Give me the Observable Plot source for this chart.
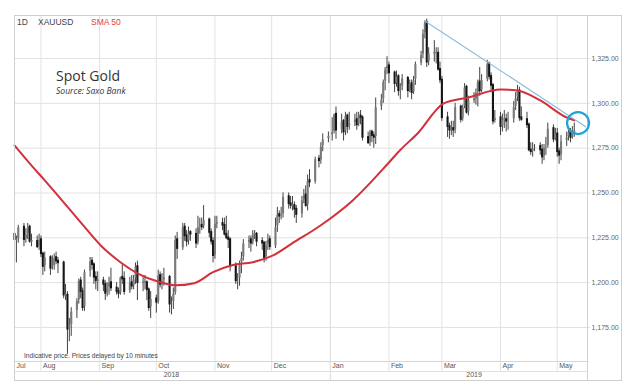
<!DOCTYPE html>
<html><head><meta charset="utf-8">
<script src="https://cdn.jsdelivr.net/npm/d3@7"></script>
<script src="https://cdn.jsdelivr.net/npm/@observablehq/plot@0.6"></script>
<style>
body{margin:0;background:#fff;}
#wrap{position:relative;width:625px;height:392px;font-family:Arial,"Liberation Sans",sans-serif;overflow:hidden;}
#wrap svg{position:absolute;left:0;top:0;}
.box{position:absolute;left:14px;top:15px;width:606px;height:364px;border:1px solid #cfcfcf;pointer-events:none;}
.hdr{position:absolute;top:17px;font-size:8.5px;color:#444;white-space:nowrap;}
.title{position:absolute;left:56px;top:66px;font-family:"Open Sans",sans-serif;font-size:14px;color:#333;white-space:nowrap;}
.src{position:absolute;left:56px;top:85px;font-family:"Open Sans",sans-serif;font-style:italic;font-size:8.6px;color:#333;white-space:nowrap;}
.disc{position:absolute;left:24px;top:352px;font-size:6.6px;color:#444;white-space:nowrap;}
</style>
</head><body>
<div id="wrap">
  <div id="chart"></div>
  <div class="box"></div>
  <div class="hdr" style="left:17px">1D</div>
  <div class="hdr" style="left:38px">XAUUSD</div>
  <div class="hdr" style="left:91px;color:#e0433f">SMA 50</div>
  <div class="title">Spot Gold</div>
  <div class="src">Source: Saxo Bank</div>
  <div class="disc">Indicative price. Prices delayed by 10 minutes</div>
</div>
<script>
// ---- trading days, grouped by month ----
const months = ["2018-07","2018-08","2018-09","2018-10","2018-11","2018-12","2019-01","2019-02","2019-03","2019-04","2019-05"];
const monthDays = [
  [18,19,20,23,24,25,26,27,30,31],
  [1,2,3,6,7,8,9,10,13,14,15,16,17,20,21,22,23,24,27,28,29,30,31],
  [3,4,5,6,7,10,11,12,13,14,17,18,19,20,21,24,25,26,27,28],
  [1,2,3,4,5,8,9,10,11,12,15,16,17,18,19,22,23,24,25,26,29,30,31],
  [1,2,5,6,7,8,9,12,13,14,15,16,19,20,21,22,23,26,27,28,29,30],
  [3,4,5,6,7,10,11,12,13,14,17,18,19,20,21,24,26,27,28,31],
  [2,3,4,7,8,9,10,11,14,15,16,17,18,21,22,23,24,25,28,29,30,31],
  [1,4,5,6,7,8,11,12,13,14,15,18,19,20,21,22,25,26,27,28],
  [1,4,5,6,7,8,11,12,13,14,15,18,19,20,21,22,25,26,27,28,29],
  [1,2,3,4,5,8,9,10,11,12,15,16,17,18,19,22,23,24,25,26,29,30],
  [1,2,3,6,7,8,9,10]
];
const open = [
  1227,1224,1224,1231,1224,1227,1231,1223,1223,1220,
  1224,1216,1209,1214,1208,1209,1214,1212,1211,1193,1193,1174,1176,1184,1190,1201,1195,1186,1206,1212,1210,1203,1201,
  1201,1199,1194,1197,1200,1197,1195,1194,1203,1202,1195,1200,1198,1202,1209,1200,1200,1200,1196,1186,
  1191,1189,1204,1199,1201,1203,1188,1189,1194,1224,1219,1231,1226,1223,1228,1227,1222,1231,1232,1231,1235,1228,1223,
  1215,1233,1233,1232,1227,1225,1224,1209,1201,1202,1211,1214,1222,1224,1222,1227,1227,1223,1222,1214,1221,1224,
  1220,1231,1238,1237,1238,1248,1244,1243,1243,1241,1238,1246,1249,1243,1257,1256,1269,1268,1276,1280,
  1282,1284,1294,1285,1290,1284,1293,1287,1289,1291,1288,1293,1292,1281,1278,1284,1282,1281,1298,1302,1312,1319,
  1321,1317,1311,1315,1307,1309,1314,1307,1311,1306,1313,1322,1327,1339,1345,1323,1328,1328,1328,1319,
  1313,1292,1287,1285,1286,1285,1298,1291,1298,1309,1295,1302,1302,1306,1312,1307,1313,1322,1315,1310,1290,
  1292,1287,1291,1291,1290,1291,1298,1303,1307,1292,1291,1288,1274,1273,1275,1276,1274,1270,1275,1276,1286,1280,
  1283,1273,1271,1279,1281,1284,1281,1283
];
const high = [
  1228,1226,1232,1233,1230,1233,1232,1227,1226,1227,
  1226,1217,1217,1215,1215,1216,1217,1214,1212,1199,1195,1180,1186,1191,1202,1203,1197,1207,1214,1214,1211,1206,1206,
  1203,1201,1200,1203,1208,1200,1197,1203,1210,1206,1203,1204,1204,1211,1212,1203,1204,1201,1197,1195,
  1193,1207,1206,1205,1208,1204,1192,1197,1226,1228,1233,1233,1229,1231,1229,1230,1237,1236,1236,1243,1236,1230,1225,
  1237,1237,1236,1236,1237,1229,1225,1211,1205,1212,1217,1224,1226,1226,1229,1229,1228,1225,1223,1223,1227,1226,
  1236,1242,1240,1242,1250,1250,1248,1248,1245,1243,1248,1252,1254,1260,1263,1270,1271,1278,1283,1284,
  1292,1294,1298,1294,1291,1295,1294,1295,1294,1295,1295,1296,1293,1284,1285,1285,1284,1303,1305,1313,1320,1326,
  1323,1318,1318,1316,1311,1316,1315,1313,1313,1315,1323,1329,1341,1346,1347,1331,1335,1331,1331,1323,
  1315,1295,1289,1290,1290,1300,1299,1299,1311,1310,1304,1306,1308,1313,1320,1316,1324,1323,1317,1311,1296,
  1295,1294,1296,1294,1295,1301,1306,1310,1309,1298,1295,1289,1278,1278,1277,1278,1277,1277,1281,1289,1288,1286,
  1286,1275,1282,1284,1287,1286,1287,1289
];
const low = [
  1217,1211,1222,1220,1222,1224,1222,1220,1219,1218,
  1214,1204,1206,1204,1207,1207,1210,1205,1191,1190,1160,1167,1170,1180,1188,1191,1184,1184,1203,1207,1199,1196,1195,
  1195,1190,1192,1193,1195,1193,1191,1193,1199,1193,1194,1196,1196,1199,1190,1195,1196,1190,1184,1180,
  1183,1188,1197,1196,1198,1183,1182,1185,1193,1213,1218,1223,1220,1221,1223,1219,1221,1227,1229,1230,1225,1221,1211,
  1213,1230,1229,1226,1224,1219,1206,1199,1196,1198,1205,1212,1219,1217,1221,1224,1220,1218,1211,1212,1218,1218,
  1219,1228,1233,1235,1236,1241,1241,1240,1236,1233,1236,1244,1242,1240,1253,1255,1264,1266,1273,1278,
  1279,1283,1280,1283,1279,1282,1283,1285,1287,1285,1287,1288,1279,1277,1276,1278,1275,1277,1296,1300,1307,1316,
  1311,1306,1309,1304,1302,1307,1303,1306,1302,1305,1310,1321,1325,1336,1320,1321,1323,1322,1318,1311,
  1290,1281,1280,1282,1281,1283,1289,1290,1297,1294,1293,1300,1299,1298,1304,1306,1312,1313,1306,1288,1289,
  1282,1284,1286,1284,1285,1289,1296,1301,1290,1290,1286,1273,1271,1270,1273,1271,1266,1268,1271,1275,1278,1279,
  1270,1266,1268,1276,1279,1278,1280,1281
];
const close = [
  1224,1224,1231,1224,1227,1231,1223,1223,1220,1224,
  1216,1209,1214,1208,1209,1214,1212,1211,1193,1193,1174,1176,1184,1190,1201,1195,1186,1206,1212,1210,1203,1201,1201,
  1199,1194,1197,1200,1197,1195,1194,1203,1202,1195,1200,1198,1202,1209,1200,1200,1200,1196,1186,1191,
  1189,1204,1199,1201,1203,1188,1189,1194,1224,1219,1231,1226,1223,1228,1227,1222,1231,1232,1231,1235,1228,1223,1215,
  1233,1233,1232,1227,1225,1224,1209,1201,1202,1211,1214,1222,1224,1222,1227,1227,1223,1222,1214,1221,1224,1220,
  1231,1238,1237,1238,1248,1244,1243,1243,1241,1238,1246,1249,1243,1257,1256,1269,1268,1276,1280,1282,
  1284,1294,1285,1290,1284,1293,1287,1289,1291,1288,1293,1292,1281,1278,1284,1282,1281,1298,1302,1312,1319,1321,
  1317,1311,1315,1307,1309,1314,1307,1311,1306,1313,1322,1327,1339,1345,1323,1328,1328,1328,1319,1313,
  1292,1287,1285,1286,1285,1298,1291,1298,1309,1295,1302,1302,1306,1312,1307,1313,1322,1315,1310,1290,1292,
  1287,1291,1291,1290,1291,1298,1303,1307,1292,1291,1288,1274,1273,1275,1276,1274,1270,1275,1276,1286,1280,1283,
  1273,1271,1279,1281,1284,1281,1283,1285
];

// ---- SMA 50 ----
const smaDates = ["2018-07-18","2018-07-26","2018-08-03","2018-08-12","2018-08-22","2018-09-02","2018-09-12","2018-09-21","2018-10-03","2018-10-11","2018-10-21","2018-10-31","2018-11-10","2018-11-21","2018-12-02","2018-12-12","2018-12-27","2019-01-13","2019-02-01","2019-02-07","2019-02-16","2019-03-02","2019-03-15","2019-04-01","2019-04-10","2019-04-22","2019-05-06","2019-05-10"];
const smaValues = [1276.5,1266.5,1257,1246,1233.6,1220.3,1211.4,1205.2,1200.2,1198.5,1199.7,1205.8,1209.7,1211.4,1215.3,1222,1232,1246,1267,1274,1283,1300,1303.3,1307.7,1307.2,1301.6,1292.1,1290.5];

// ---- trend line and highlight ----
const trendDates = ["2019-02-20","2019-05-16"];
const trendValues = [1346, 1287];
const markDate = ["2019-05-12"];
const markValue = [1289];

// ---- axes ----
const xDomain = ["2018-07-18","2019-05-17"];
const yDomain = [1156, 1349];
const yTicks = [1175,1200,1225,1250,1275,1300,1325];
const monthLabelDates = ["2018-07-18","2018-08-01","2018-09-01","2018-10-01","2018-11-01","2018-12-01","2019-01-01","2019-02-01","2019-03-01","2019-04-01","2019-05-01"];
const monthLabels = ["Jul","Aug","Sep","Oct","Nov","Dec","Jan","Feb","Mar","Apr","May"];
const yearLabels = ["2018","2019"];
const yearLabelDates = ["2018-10-09","2019-03-18"];
const yearStart = ["2019-01-01"];

// ---- build ----
const D = s => new Date(s);
const dates = [];
months.forEach((m, i) => monthDays[i].forEach(d => dates.push(D(`${m}-${String(d).padStart(2,"0")}`))));
if (dates.length !== close.length || open.length !== close.length || high.length !== close.length || low.length !== close.length)
  console.error("length mismatch", dates.length, open.length, high.length, low.length, close.length);
const candles = dates.map((d, i) => ({date: d, open: open[i], high: high[i], low: low[i], close: close[i]}));
const sma = smaDates.map((d, i) => ({date: D(d), value: smaValues[i]}));
const trend = trendDates.map((d, i) => ({date: D(d), value: trendValues[i]}));
const mark = markDate.map((d, i) => ({date: D(d), value: markValue[i]}));
const monthsLab = monthLabelDates.map((d, i) => ({date: D(d), label: monthLabels[i]}));
const gridMonths = monthLabelDates.slice(1).map(D).filter(d => +d !== +D(yearStart[0]));
const yearsLab = yearLabelDates.map((d, i) => ({date: D(d), label: yearLabels[i]}));

const chart = Plot.plot({
  width: 625, height: 392,
  marginLeft: 14, marginRight: 38, marginTop: 15, marginBottom: 31,
  x: {type: "utc", domain: xDomain.map(D), axis: null},
  y: {domain: yDomain, axis: null},
  style: {fontFamily: "Arial, 'Liberation Sans', sans-serif", background: "white"},
  marks: [
    Plot.ruleY(yTicks, {stroke: "#e2e2e2", insetRight: -3}),
    Plot.ruleX(gridMonths, {stroke: "#e2e2e2", insetBottom: -10}),
    Plot.ruleX(yearStart.map(D), {stroke: "#dadada", insetBottom: -19}),
    Plot.ruleY([yDomain[0]], {stroke: "#d6d6d6"}),
    Plot.ruleY([yDomain[0]], {stroke: "#e0e0e0", dy: 10}),
    Plot.ruleX([D(xDomain[1])], {stroke: "#d0d0d0", insetBottom: -19}),
    Plot.axisY(yTicks, {anchor: "right", tickSize: 0, tickPadding: 4, fontSize: 7, fill: "#666",
      tickFormat: d3.format(",.2f"), label: null}),
    Plot.text(monthsLab, {x: "date", text: "label", frameAnchor: "bottom", dy: 6, dx: 2,
      textAnchor: "start", fontSize: 7, fill: "#555"}),
    Plot.text(yearsLab, {x: "date", text: "label", frameAnchor: "bottom", dy: 15.5,
      textAnchor: "middle", fontSize: 7, fill: "#555"}),
    Plot.ruleX(candles, {x: "date", y1: "low", y2: "high", stroke: "#2e2e2e", strokeWidth: 0.9}),
    Plot.ruleX(candles, {x: "date", y1: "open", y2: "close", insetTop: -0.8, insetBottom: -0.8,
      stroke: d => d.close >= d.open ? "#7a7a7a" : "#161616", strokeWidth: 2.1}),
    Plot.line(sma, {x: "date", y: "value", stroke: "#d2303a", strokeWidth: 2, curve: "monotone-x"}),
    Plot.line(trend, {x: "date", y: "value", stroke: "#8fbbdc", strokeWidth: 1.2}),
    Plot.dot(mark, {x: "date", y: "value", r: 11, stroke: "#1fa3d8", strokeWidth: 2.2, fill: "none"})
  ]
});
document.getElementById("chart").appendChild(chart);
</script>
</body></html>
